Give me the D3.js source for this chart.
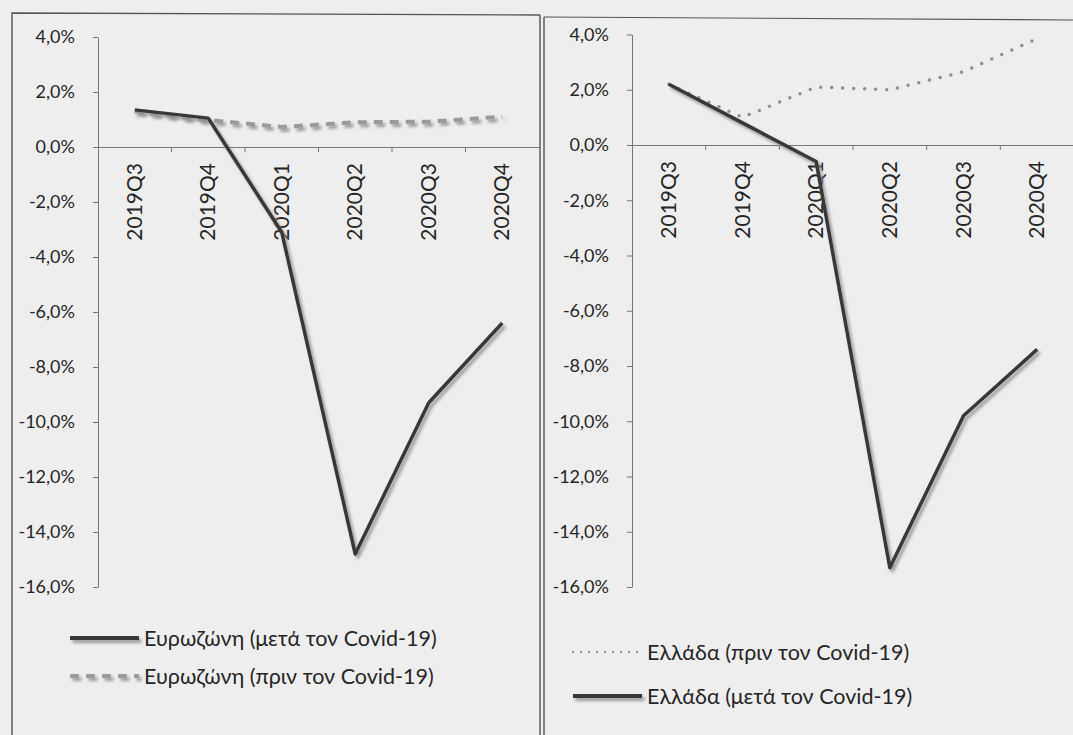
<!DOCTYPE html>
<html><head><meta charset="utf-8">
<script src="https://cdn.jsdelivr.net/npm/d3@7"></script>
<style>
html,body{margin:0;padding:0;background:#eeeeee;}
svg{display:block;}
text{font-family:Lato,"Open Sans","Noto Sans",sans-serif;fill:#262626;}
</style></head>
<body>
<svg id="c" width="1073" height="735"></svg>
<script>
const categories = ["2019Q3","2019Q4","2020Q1","2020Q2","2020Q3","2020Q4"];
const euroAfter   = [1.35, 1.05, -3.1, -14.8, -9.3, -6.4];
const euroBefore  = [1.3, 0.98, 0.73, 0.9, 0.92, 1.1];
const greeceAfter = [2.2, 0.8, -0.6, -15.3, -9.8, -7.4];
const greeceBefore= [2.2, 1.0, 2.1, 2.0, 2.65, 3.85];
const yTicks = [4,2,0,-2,-4,-6,-8,-10,-12,-14,-16];
const legendLeft  = ["Ευρωζώνη (μετά τον Covid-19)","Ευρωζώνη (πριν τον Covid-19)"];
const legendRight = ["Ελλάδα (πριν τον Covid-19)","Ελλάδα (μετά τον Covid-19)"];

const svg = d3.select("#c");
const defs = svg.append("defs");
defs.append("filter").attr("id","sh").attr("filterUnits","userSpaceOnUse")
  .attr("x",0).attr("y",0).attr("width",1073).attr("height",735)
  .append("feDropShadow").attr("dx",2.5).attr("dy",3).attr("stdDeviation",1.4)
  .attr("flood-color","#8c8c8c").attr("flood-opacity",0.85);

// panel borders
svg.append("path").attr("d","M12,735 L12,13 L540,15").attr("fill","none").attr("stroke","#555").attr("stroke-width",1.4);
svg.append("line").attr("x1",540).attr("x2",540).attr("y1",15).attr("y2",735).attr("stroke","#555").attr("stroke-width",1.4);
svg.append("line").attr("x1",544).attr("x2",544).attr("y1",17).attr("y2",735).attr("stroke","#555").attr("stroke-width",1.4);
svg.append("line").attr("x1",544).attr("x2",1073).attr("y1",17).attr("y2",20).attr("stroke","#555").attr("stroke-width",1.2);

const fmt = v => d3.format(".1f")(v).replace(".",",").replace("−","-") + "%";

function panel(cfg){
  const x = d3.scalePoint().domain(categories).range([cfg.x0, cfg.x1]).padding(0.5);
  const xb = d3.scaleBand().domain(categories).range([cfg.x0, cfg.x1]);
  const y = d3.scaleLinear().domain([-16,4]).range(cfg.yr);
  const g = svg.append("g");
  const ya = g.append("g").attr("transform",`translate(${cfg.x0},0)`)
    .call(d3.axisLeft(y).tickValues(yTicks).tickFormat(fmt).tickSize(5).tickSizeOuter(0).tickPadding(18));
  ya.select(".domain").attr("stroke","#777");
  ya.selectAll(".tick line").attr("stroke","#777");
  ya.selectAll(".tick text").attr("font-size",cfg.tickFs).attr("fill","#262626").style("font-family","Lato,'Open Sans',sans-serif");
  const xa = g.append("g").attr("transform",`translate(0,${y(0)})`)
    .call(d3.axisBottom(xb).tickSize(0).tickFormat(""));
  xa.select(".domain").attr("stroke","#777");
  g.selectAll("line.bt").data(categories.slice(1)).join("line")
    .attr("x1",d=>xb(d)).attr("x2",d=>xb(d)).attr("y1",y(0)).attr("y2",y(0)+5).attr("stroke","#777");
  g.selectAll("text.cat").data(categories).join("text")
    .attr("transform",d=>`translate(${x(d)+7},${y(0)+16}) rotate(-90)`)
    .attr("text-anchor","end").attr("font-size",cfg.catFs).text(d=>d);
  const line = d3.line().x((d,i)=>x(categories[i])).y(d=>y(d));
  g.append("path").datum(cfg.before).attr("d",line).attr("fill","none")
    .attr("stroke",cfg.beforeColor).attr("stroke-width",cfg.beforeW)
    .attr("stroke-dasharray",cfg.beforeDash).attr("stroke-linecap",cfg.beforeCap)
    .attr("filter",cfg.beforeShadow?"url(#sh)":null);
  g.append("path").datum(cfg.after).attr("d",line).attr("fill","none")
    .attr("stroke","#383838").attr("stroke-width",3.5).attr("stroke-linejoin","round")
    .attr("filter","url(#sh)");
}

panel({x0:98, x1:539, yr:[587,37], before:euroBefore, after:euroAfter,
  beforeColor:"#9a9a9a", beforeW:4, beforeDash:"9,7", beforeCap:"butt", beforeShadow:true, tickFs:18, catFs:21});
panel({x0:632, x1:1074, yr:[587,34.5], before:greeceBefore, after:greeceAfter,
  beforeColor:"#8f8f8f", beforeW:3.5, beforeDash:"0,11", beforeCap:"round", beforeShadow:false, tickFs:18, catFs:21});

function legendItem(x1,x2,yy,label,style){
  const g = svg.append("g");
  g.append("line").attr("x1",x1).attr("x2",x2).attr("y1",yy).attr("y2",yy)
    .attr("stroke",style.c).attr("stroke-width",style.w)
    .attr("stroke-dasharray",style.dash||null).attr("stroke-linecap",style.cap||"butt")
    .attr("filter",style.sh?"url(#sh)":null);
  g.append("text").attr("x",x2+5).attr("y",yy).attr("dy","0.36em").attr("font-size",21.5).text(label);
}
legendItem(70,139,638,legendLeft[0],{c:"#383838",w:4,sh:true});
legendItem(70,139,676,legendLeft[1],{c:"#9a9a9a",w:4,dash:"9,7",sh:true});
legendItem(573,642,652,legendRight[0],{c:"#9a9a9a",w:2.5,dash:"0,8",cap:"round"});
legendItem(573,642,696,legendRight[1],{c:"#383838",w:4,sh:true});
</script>
</body></html>
